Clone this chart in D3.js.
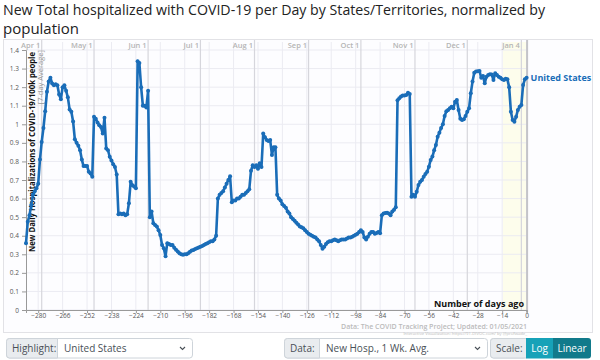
<!DOCTYPE html>
<html><head><meta charset="utf-8">
<script src="https://cdn.jsdelivr.net/npm/d3@7"></script>
<style>
html,body{margin:0;padding:0;background:#fff;}
svg{display:block;}
text{font-family:"Open Sans","Lato",sans-serif;}
</style></head>
<body><svg id="c" width="600" height="360"></svg>
<script>
// ---- data ----
const titleLines = ["New Total hospitalized with COVID-19 per Day by States/Territories, normalized by", "population"];
const seriesName = "United States";
const startDay = -287;
const hospPer100k = [
0.36,0.475,0.51,0.565,0.62,0.64,0.655,0.68,0.81,0.905,
0.98,1.07,1.175,1.23,1.25,1.22,1.21,1.215,1.21,1.16,
1.135,1.2,1.21,1.18,1.145,1.08,1.068,1.015,0.92,0.9,
0.885,0.86,0.81,0.775,0.775,0.775,0.745,0.735,0.718,1.04,
1.03,1.01,0.995,0.985,0.95,1.035,0.87,0.86,0.825,0.805,
0.785,0.77,0.73,0.515,0.52,0.515,0.52,0.51,0.515,0.575,
0.69,0.672,0.665,0.655,1.34,1.33,1.2,1.1,1.1,1.09,
1.18,0.5,0.53,0.467,0.458,0.45,0.43,0.404,0.35,0.332,
0.29,0.36,0.355,0.35,0.35,0.335,0.325,0.315,0.305,0.3,
0.298,0.3,0.3,0.305,0.314,0.32,0.323,0.328,0.332,0.336,
0.341,0.345,0.35,0.355,0.36,0.365,0.37,0.37,0.38,0.4,
0.6,0.62,0.63,0.64,0.66,0.68,0.7,0.72,0.58,0.59,
0.59,0.6,0.6,0.61,0.62,0.62,0.63,0.64,0.65,0.75,
0.78,0.77,0.78,0.76,0.79,0.77,0.95,0.93,0.915,0.91,
0.915,0.835,0.876,0.876,
0.62,0.6,0.59,0.57,0.56,0.55,0.53,0.52,0.5,0.49,
0.48,0.47,0.46,0.45,0.445,0.44,0.43,0.42,0.41,0.405,
0.4,0.395,0.39,0.38,0.37,0.35,0.33,0.34,0.355,0.365,
0.37,0.37,0.375,0.38,0.375,0.37,0.375,0.38,0.38,0.38,
0.385,0.39,0.39,0.395,0.4,0.405,0.41,0.42,0.43,0.42,
0.39,0.38,0.395,0.41,0.42,0.42,0.41,0.415,0.42,
0.413,0.51,0.52,0.522,0.524,0.52,0.51,0.53,0.54,0.553,
1.13,1.14,1.15,1.155,1.155,1.158,1.17,1.163,0.61,0.62,
0.61,0.637,0.673,0.69,0.7,0.718,0.732,0.745,0.772,0.808,
0.826,0.86,0.889,0.933,0.955,0.98,1.0,1.045,1.07,1.077,
1.086,1.095,1.086,1.122,1.131,1.077,1.03,1.023,1.027,1.045,
1.068,1.086,1.167,1.23,1.278,1.284,1.285,1.287,1.25,1.26,
1.221,1.256,1.265,1.269,1.268,1.239,1.275,1.265,1.256,1.25,
1.242,1.239,1.245,1.242,1.2,1.068,1.023,1.014,1.041,1.077,
1.095,1.104,1.212,1.242,1.25
];
const xTickValues = [-280,-266,-252,-238,-224,-210,-196,-182,-168,-154,-140,-126,-112,-98,-84,-70,-56,-42,-28,-14,0];
const yTickValues = [0,0.1,0.2,0.3,0.4,0.5,0.6,0.7,0.8,0.9,1,1.1,1.2,1.3,1.4];
const monthLabels = ["Apr 1","May 1","Jun 1","Jul 1","Aug 1","Sep 1","Oct 1","Nov 1","Dec 1","Jan 4"];
const monthDays = [-278,-248,-217,-187,-156,-125,-95,-64,-34,-3];
const recentWindow = [-13.5, 0];

// ---- drawing ----
const svg = d3.select("#c");
const x = d3.scaleLinear().domain([startDay, 0]).range([26, 526.6]);
const y = d3.scaleLinear().domain([0, 1.4]).range([310, 50]);
const data = hospPer100k.map((v,i)=>({day:startDay+i, v}));
const blue = "#1a6db8";

// title
svg.append("g").selectAll("text").data(titleLines).join("text")
  .attr("x",3).attr("y",(d,i)=>15+i*19)
  .attr("font-family","Roboto, 'Open Sans', sans-serif")
  .attr("font-size",15).attr("fill","#222")
  .attr("textLength",(d,i)=>i===0?542:null)
  .attr("lengthAdjust","spacingAndGlyphs")
  .text(d=>d);

// container
svg.append("rect").attr("x",3.5).attr("y",39.5).attr("width",589).attr("height",293)
  .attr("fill","#fdfdff").attr("stroke","#e2e2e6");

// recent band
svg.append("rect").attr("x",x(recentWindow[0])).attr("y",42)
  .attr("width",x(recentWindow[1])-x(recentWindow[0])).attr("height",268)
  .attr("fill","#fdfdec");

// horizontal grid
svg.append("g").selectAll("line").data(yTickValues).join("line")
  .attr("x1",26).attr("x2",x(0)).attr("y1",d=>y(d)).attr("y2",d=>y(d))
  .attr("stroke","#ebebf2").attr("stroke-width",1);
// vertical grid
svg.append("g").selectAll("line").data(xTickValues).join("line")
  .attr("x1",d=>x(d)).attr("x2",d=>x(d)).attr("y1",42).attr("y2",310)
  .attr("stroke","#ebebf2").attr("stroke-width",1);
// month lines
const months = monthLabels.map((m,i)=>({m, d:monthDays[i]}));
svg.append("g").selectAll("line").data(months).join("line")
  .attr("x1",d=>x(d.d)).attr("x2",d=>x(d.d)).attr("y1",40).attr("y2",310)
  .attr("stroke","#d6d6dc").attr("stroke-width",1.2);
svg.append("g").selectAll("text").data(months).join("text")
  .attr("x",d=>x(d.d)-1.5).attr("y",48).attr("text-anchor","end")
  .attr("font-size",7.5).attr("font-weight",600).attr("fill","#b5b5b5").text(d=>d.m);

// right edge line
svg.append("line").attr("x1",x(0)+0.5).attr("x2",x(0)+0.5).attr("y1",40).attr("y2",312)
  .attr("stroke","#c4c4c8").attr("stroke-width",2);

// axes
const xAxis = svg.append("g").attr("transform","translate(0,310)")
  .call(d3.axisBottom(x).tickValues(xTickValues).tickSize(3).tickFormat(d3.format("d")));
xAxis.select(".domain").attr("stroke","#999");
xAxis.selectAll(".tick line").attr("stroke","#999");
xAxis.selectAll("text").attr("font-size",6.5).attr("fill","#555").attr("y",3.8).attr("dy","0.71em");

const yAxis = svg.append("g").attr("transform","translate(26,0)")
  .call(d3.axisLeft(y).tickValues(yTickValues).tickSize(4).tickFormat(d=>d3.format("")(+d.toFixed(1))));
yAxis.select(".domain").attr("stroke","#999");
yAxis.selectAll(".tick line").attr("stroke","#999");
yAxis.selectAll("text").attr("font-size",6.5).attr("fill","#555");

// axis titles
svg.append("text").attr("transform","translate(35,52) rotate(-90)")
  .attr("text-anchor","end").attr("font-size",8.5).attr("font-weight",700).attr("fill","#111")
  .attr("textLength",200).attr("lengthAdjust","spacingAndGlyphs")
  .text("New Daily Hospitalizations of COVID-19/100k people");
svg.append("text").attr("transform","translate(43,50) rotate(-90)")
  .attr("text-anchor","end").attr("font-size",7.5).attr("fill","#999")
  .text("[7-day Average]");
svg.append("text").attr("x",524).attr("y",307).attr("text-anchor","end")
  .attr("font-size",9).attr("font-weight",700).attr("fill","#111").text("Number of days ago");

// credits
svg.append("text").attr("x",527).attr("y",328.5).attr("text-anchor","end")
  .attr("font-size",7).attr("font-weight",600).attr("fill","#bbb")
  .text("Data: The COVID Tracking Project; Updated: 01/05/2021");
svg.append("text").attr("x",527).attr("y",334.5).attr("text-anchor","end")
  .attr("font-size",4.2).attr("fill","#bbb")
  .text("Interactive Visualization: https://91-DIVOC.com/ by @profwade_");

// line
svg.append("path").datum(data)
  .attr("fill","none").attr("stroke",blue).attr("stroke-width",2.6).attr("stroke-linejoin","round")
  .attr("d", d3.line().x(d=>x(d.day)).y(d=>y(d.v)));
svg.append("g").selectAll("circle").data(data).join("circle")
  .attr("cx",d=>x(d.day)).attr("cy",d=>y(d.v)).attr("r",2).attr("fill",blue);

// series label
const last = data[data.length-1];
svg.append("text").attr("x",x(last.day)+4).attr("y",y(last.v)+3)
  .attr("font-size",9).attr("font-weight",700).attr("fill",blue).text(seriesName);

// controls
function group(x0, x1, labelW, label, value){
  const g = svg.append("g");
  g.append("rect").attr("x",x0+0.5).attr("y",338.5).attr("width",x1-x0).attr("height",19.5)
    .attr("rx",3).attr("fill","#fff").attr("stroke","#ced4da");
  g.append("path").attr("d",`M${x0+3.5},338.5 h${labelW-3} v19.5 h${-(labelW-3)} a3,3 0 0 1 -3,-3 v-13.5 a3,3 0 0 1 3,-3z`)
    .attr("fill","#e9ecef").attr("stroke","#ced4da");
  g.append("text").attr("x",x0+6).attr("y",351.5).attr("font-size",10).attr("fill","#495057").text(label);
  if (value!==null){
    g.append("text").attr("x",x0+labelW+7).attr("y",351.5).attr("font-size",10).attr("fill","#495057").text(value);
    g.append("path").attr("d",`M${x1-12},347 l2.5,2.5 l2.5,-2.5`).attr("fill","none").attr("stroke","#495057").attr("stroke-width",1.1);
  }
}
group(6,192,51,"Highlight:","United States");
group(284,487,35,"Data:","New Hosp., 1 Wk. Avg.");
group(490,526,36,"Scale:",null);
svg.append("rect").attr("x",526).attr("y",338).attr("width",27).attr("height",20.5).attr("fill","#17a2b8");
svg.append("path").attr("d","M553,338 h35 a3,3 0 0 1 3,3 v14.5 a3,3 0 0 1 -3,3 h-35z").attr("fill","#117a8b");
svg.append("text").attr("x",539.5).attr("y",352).attr("text-anchor","middle").attr("font-size",10).attr("fill","#fff").text("Log");
svg.append("text").attr("x",572).attr("y",352).attr("text-anchor","middle").attr("font-size",10).attr("fill","#fff").text("Linear");
</script></body></html>
